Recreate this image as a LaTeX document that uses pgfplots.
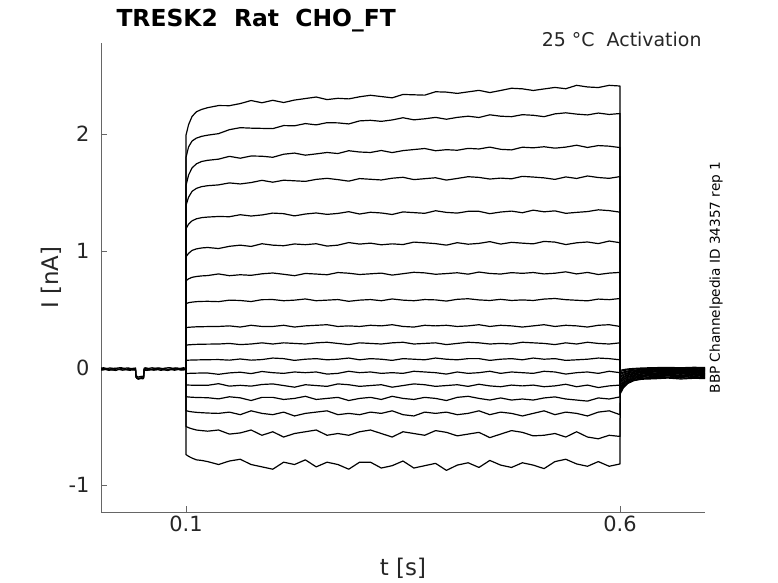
\documentclass[border=0pt]{standalone}
\usepackage{fontspec}
\setmainfont{DejaVu Sans}
\usepackage{pgfplots}
\pgfplotsset{compat=1.18}
\definecolor{axgray}{gray}{0.15}
\definecolor{axline}{gray}{0.4}
\begin{document}
\begin{tikzpicture}
\begin{axis}[
  at={(0,0)}, anchor=south west,
  scale only axis, width=604bp, height=469bp,
  xmin=0.0021, xmax=0.6979, ymin=-1.2308, ymax=2.7778,
  axis x line*=bottom, axis y line*=left,
  axis line style={-, axline, line width=0.8pt},
  xtick={0.1,0.6}, xticklabels={0.1,0.6},
  ytick={-1,0,1,2}, yticklabels={-1,0,1,2},
  tick align=inside, major tick length=6bp,
  tick style={axline, line width=0.8pt},
  ticklabel style={font=\fontsize{21}{25}\selectfont, text=axgray},
  yticklabel style={xshift=-8bp},
  /pgf/number format/assume math mode=true,
  cycle list={{black, solid, mark=none}},
  every axis plot post/.append style={black, solid, mark=none, line width=1.2pt, line join=round},
]
% baseline (holding) segments
\addplot coordinates {(.0021,-.008)(.006,-.004)(.010,-.012)(.014,-.006)(.018,-.002)(.022,-.010)(.026,-.005)(.030,-.013)(.034,-.004)(.038,-.009)(.0419,-.006)(.0424,-.07)(.0432,-.085)(.046,-.088)(.049,-.083)(.051,-.086)(.0512,-.075)(.0518,-.008)(.0555,-.003)(.0595,-.011)(.0635,-.005)(.0675,-.001)(.0715,-.009)(.0755,-.004)(.0795,-.012)(.0835,-.006)(.0875,-.002)(.0915,-.010)(.0955,-.005)(.0999,-.01)};
\addplot coordinates {(.0021,-.012)(.004,-.016)(.008,-.009)(.012,-.014)(.016,-.018)(.020,-.008)(.024,-.013)(.028,-.007)(.032,-.015)(.036,-.010)(.040,-.016)(.0419,-.011)(.0424,-.075)(.044,-.092)(.0475,-.086)(.0505,-.093)(.0512,-.08)(.0518,-.014)(.054,-.009)(.058,-.017)(.062,-.011)(.066,-.015)(.070,-.008)(.074,-.014)(.078,-.018)(.082,-.010)(.086,-.013)(.090,-.007)(.094,-.016)(.098,-.011)(.0999,-.012)};
\addplot coordinates {(.0021,-.001)(.005,.002)(.009,-.004)(.013,.001)(.017,-.006)(.021,0)(.025,.003)(.029,-.003)(.033,.001)(.037,-.005)(.0419,0)(.0424,-.065)(.045,-.078)(.048,-.072)(.0512,-.07)(.0518,-.002)(.053,.002)(.057,-.004)(.061,.002)(.065,-.003)(.069,.001)(.073,-.005)(.077,0)(.081,.003)(.085,-.003)(.089,.001)(.093,-.004)(.097,.002)(.0999,-.003)};
\addplot coordinates {(.0021,-.018)(.007,-.013)(.011,-.020)(.015,-.015)(.019,-.021)(.023,-.012)(.027,-.019)(.031,-.014)(.035,-.020)(.039,-.016)(.0419,-.018)(.0424,-.08)(.045,-.096)(.048,-.09)(.0512,-.088)(.0518,-.017)(.055,-.021)(.059,-.014)(.063,-.019)(.067,-.013)(.071,-.020)(.075,-.015)(.079,-.021)(.083,-.014)(.087,-.019)(.091,-.013)(.095,-.018)(.0999,-.015)};
% c1
\addplot coordinates {(.0999,-.01)(.1,1.99)(.103,2.08)(.107,2.15)(.112,2.19)(.118,2.21)(.125,2.225)(.1375,2.243)(.15,2.242)(.1625,2.26)(.175,2.286)(.1875,2.267)(.2,2.288)(.2125,2.269)(.225,2.29)(.2375,2.303)(.25,2.316)(.2625,2.294)(.275,2.305)(.2875,2.3)(.3,2.318)(.3125,2.331)(.325,2.32)(.3375,2.309)(.35,2.338)(.3625,2.335)(.375,2.332)(.3875,2.361)(.4,2.358)(.4125,2.347)(.425,2.36)(.4375,2.373)(.45,2.354)(.4625,2.372)(.475,2.391)(.4875,2.386)(.5,2.372)(.5125,2.385)(.525,2.398)(.5375,2.387)(.55,2.416)(.5625,2.402)(.575,2.397)(.5875,2.416)(.6,2.41)(.6003,-.22)(.604,-.168)(.609,-.132)(.616,-.108)(.625,-.096)(.64,-.092)(.655,-.086)(.67,-.094)(.685,-.088)(.698,-.09)};
% c2
\addplot coordinates {(.0999,-.01)(.1,1.80)(.103,1.89)(.107,1.94)(.112,1.965)(.118,1.98)(.125,1.99)(.1375,2.003)(.15,2.037)(.1625,2.054)(.175,2.05)(.1875,2.048)(.2,2.046)(.2125,2.072)(.225,2.07)(.2375,2.089)(.25,2.078)(.2625,2.097)(.275,2.095)(.2875,2.086)(.3,2.112)(.3125,2.117)(.325,2.108)(.3375,2.12)(.35,2.139)(.3625,2.121)(.375,2.13)(.3875,2.142)(.4,2.126)(.4125,2.142)(.425,2.152)(.4375,2.141)(.45,2.164)(.4625,2.152)(.475,2.148)(.4875,2.165)(.5,2.16)(.5125,2.148)(.525,2.172)(.5375,2.181)(.55,2.17)(.5625,2.163)(.575,2.179)(.5875,2.167)(.6,2.175)(.6003,-.21)(.604,-.16)(.609,-.127)(.616,-.104)(.625,-.092)(.64,-.086)(.655,-.081)(.67,-.087)(.685,-.082)(.698,-.084)};
% c3
\addplot coordinates {(.0999,-.01)(.1,1.56)(.103,1.65)(.107,1.71)(.112,1.745)(.118,1.765)(.125,1.775)(.1375,1.785)(.15,1.809)(.1625,1.793)(.175,1.812)(.1875,1.81)(.2,1.801)(.2125,1.827)(.225,1.837)(.2375,1.819)(.25,1.83)(.2625,1.842)(.275,1.833)(.2875,1.857)(.3,1.846)(.3125,1.842)(.325,1.859)(.3375,1.841)(.35,1.858)(.3625,1.867)(.375,1.876)(.3875,1.857)(.4,1.866)(.4125,1.861)(.425,1.877)(.4375,1.872)(.45,1.888)(.4625,1.869)(.475,1.864)(.4875,1.887)(.5,1.882)(.5125,1.891)(.525,1.879)(.5375,1.888)(.55,1.904)(.5625,1.885)(.575,1.901)(.5875,1.896)(.6,1.884)(.6003,-.195)(.604,-.15)(.609,-.12)(.616,-.097)(.625,-.086)(.64,-.08)(.655,-.076)(.67,-.08)(.685,-.074)(.698,-.078)};
% c4
\addplot coordinates {(.0999,-.01)(.1,1.39)(.103,1.46)(.107,1.51)(.112,1.535)(.118,1.55)(.125,1.558)(.1375,1.565)(.15,1.582)(.1625,1.573)(.175,1.585)(.1875,1.604)(.2,1.588)(.2125,1.605)(.225,1.60)(.2375,1.595)(.25,1.612)(.2625,1.621)(.275,1.61)(.2875,1.597)(.3,1.619)(.3125,1.613)(.325,1.607)(.3375,1.622)(.35,1.63)(.3625,1.61)(.375,1.618)(.3875,1.626)(.4,1.606)(.4125,1.62)(.425,1.635)(.4375,1.629)(.45,1.615)(.4625,1.623)(.475,1.617)(.4875,1.638)(.5,1.632)(.5125,1.625)(.525,1.612)(.5375,1.633)(.55,1.62)(.5625,1.641)(.575,1.628)(.5875,1.621)(.6,1.636)(.6003,-.18)(.604,-.14)(.609,-.112)(.616,-.09)(.625,-.079)(.64,-.073)(.655,-.069)(.67,-.073)(.685,-.068)(.698,-.071)};
% c5
\addplot coordinates {(.0999,-.01)(.1,1.19)(.103,1.23)(.107,1.258)(.112,1.275)(.118,1.285)(.125,1.29)(.1375,1.295)(.15,1.293)(.1625,1.31)(.175,1.299)(.1875,1.308)(.2,1.324)(.2125,1.319)(.225,1.30)(.2375,1.316)(.25,1.325)(.2625,1.313)(.275,1.321)(.2875,1.336)(.3,1.316)(.3125,1.331)(.325,1.325)(.3375,1.312)(.35,1.334)(.3625,1.328)(.375,1.322)(.3875,1.344)(.4,1.33)(.4125,1.324)(.425,1.339)(.4375,1.339)(.45,1.319)(.4625,1.333)(.475,1.341)(.4875,1.327)(.5,1.349)(.5125,1.335)(.525,1.343)(.5375,1.322)(.55,1.33)(.5625,1.337)(.575,1.352)(.5875,1.345)(.6,1.332)(.6003,-.17)(.604,-.132)(.609,-.105)(.616,-.085)(.625,-.072)(.64,-.066)(.655,-.062)(.67,-.066)(.685,-.061)(.698,-.064)};
% c6
\addplot coordinates {(.0999,-.01)(.1,0.95)(.103,0.98)(.107,1.005)(.112,1.018)(.118,1.026)(.125,1.03)(.1375,1.021)(.15,1.04)(.1625,1.05)(.175,1.039)(.1875,1.062)(.2,1.05)(.2125,1.045)(.225,1.06)(.2375,1.054)(.25,1.062)(.2625,1.042)(.275,1.05)(.2875,1.072)(.3,1.059)(.3125,1.067)(.325,1.053)(.3375,1.061)(.35,1.055)(.3625,1.076)(.375,1.07)(.3875,1.063)(.4,1.05)(.4125,1.071)(.425,1.058)(.4375,1.065)(.45,1.08)(.4625,1.059)(.475,1.074)(.4875,1.067)(.5,1.061)(.5125,1.082)(.525,1.076)(.5375,1.055)(.55,1.07)(.5625,1.077)(.575,1.063)(.5875,1.085)(.6,1.071)(.6003,-.16)(.604,-.124)(.609,-.098)(.616,-.078)(.625,-.066)(.64,-.06)(.655,-.056)(.67,-.06)(.685,-.055)(.698,-.058)};
% c7
\addplot coordinates {(.0999,-.01)(.1,0.745)(.103,0.762)(.107,0.775)(.112,0.782)(.118,0.787)(.125,0.79)(.1375,0.804)(.15,0.789)(.1625,0.797)(.175,0.792)(.1875,0.805)(.2,0.812)(.2125,0.801)(.225,0.789)(.2375,0.808)(.25,0.803)(.2625,0.797)(.275,0.816)(.2875,0.81)(.3,0.799)(.3125,0.805)(.325,0.811)(.3375,0.794)(.35,0.806)(.3625,0.818)(.375,0.813)(.3875,0.801)(.4,0.807)(.4125,0.814)(.425,0.802)(.4375,0.82)(.45,0.808)(.4625,0.803)(.475,0.815)(.4875,0.809)(.5,0.816)(.5125,0.804)(.525,0.81)(.5375,0.822)(.55,0.804)(.5625,0.817)(.575,0.799)(.5875,0.811)(.6,0.817)(.6003,-.145)(.604,-.112)(.609,-.089)(.616,-.071)(.625,-.06)(.64,-.054)(.655,-.05)(.67,-.053)(.685,-.049)(.698,-.052)};
% c8
\addplot coordinates {(.0999,-.01)(.1,0.55)(.103,0.558)(.107,0.563)(.112,0.567)(.118,0.569)(.125,0.57)(.1375,0.567)(.15,0.58)(.1625,0.577)(.175,0.568)(.1875,0.584)(.2,0.585)(.2125,0.575)(.225,0.58)(.2375,0.59)(.25,0.575)(.2625,0.58)(.275,0.585)(.2875,0.57)(.3,0.58)(.3125,0.585)(.325,0.575)(.3375,0.59)(.35,0.58)(.3625,0.575)(.375,0.585)(.3875,0.582)(.4,0.572)(.4125,0.587)(.425,0.592)(.4375,0.582)(.45,0.577)(.4625,0.587)(.475,0.577)(.4875,0.582)(.5,0.577)(.5125,0.589)(.525,0.594)(.5375,0.584)(.55,0.579)(.5625,0.574)(.575,0.589)(.5875,0.584)(.6,0.594)(.6003,-.13)(.604,-.1)(.609,-.08)(.616,-.064)(.625,-.053)(.64,-.047)(.655,-.044)(.67,-.047)(.685,-.043)(.698,-.046)};
% c9
\addplot coordinates {(.0999,-.01)(.1,0.345)(.103,0.348)(.107,0.35)(.112,0.352)(.118,0.353)(.125,0.354)(.1375,0.355)(.15,0.36)(.1625,0.35)(.175,0.365)(.1875,0.355)(.2,0.355)(.2125,0.365)(.225,0.35)(.2375,0.36)(.25,0.365)(.2625,0.37)(.275,0.355)(.2875,0.36)(.3,0.355)(.3125,0.365)(.325,0.36)(.3375,0.37)(.35,0.355)(.3625,0.35)(.375,0.365)(.3875,0.36)(.4,0.365)(.4125,0.355)(.425,0.36)(.4375,0.37)(.45,0.355)(.4625,0.365)(.475,0.36)(.4875,0.35)(.5,0.36)(.5125,0.37)(.525,0.355)(.5375,0.365)(.55,0.36)(.5625,0.35)(.575,0.365)(.5875,0.37)(.6,0.355)(.6003,-.12)(.604,-.093)(.609,-.073)(.616,-.058)(.625,-.048)(.64,-.042)(.655,-.038)(.67,-.041)(.685,-.037)(.698,-.04)};
% c10
\addplot coordinates {(.0999,-.01)(.1,0.195)(.103,0.198)(.107,0.2)(.112,0.202)(.118,0.203)(.125,0.204)(.1375,0.205)(.15,0.21)(.1625,0.20)(.175,0.205)(.1875,0.215)(.2,0.205)(.2125,0.215)(.225,0.21)(.2375,0.205)(.25,0.215)(.2625,0.22)(.275,0.21)(.2875,0.20)(.3,0.215)(.3125,0.21)(.325,0.205)(.3375,0.215)(.35,0.22)(.3625,0.205)(.375,0.21)(.3875,0.215)(.4,0.20)(.4125,0.21)(.425,0.22)(.4375,0.215)(.45,0.205)(.4625,0.21)(.475,0.205)(.4875,0.22)(.5,0.215)(.5125,0.21)(.525,0.20)(.5375,0.215)(.55,0.205)(.5625,0.22)(.575,0.21)(.5875,0.205)(.6,0.215)(.6003,-.105)(.604,-.082)(.609,-.064)(.616,-.05)(.625,-.04)(.64,-.035)(.655,-.032)(.67,-.035)(.685,-.031)(.698,-.033)};
% c11
\addplot coordinates {(.0999,-.01)(.1,0.065)(.103,0.067)(.107,0.068)(.112,0.069)(.118,0.07)(.125,0.071)(.1375,0.072)(.15,0.067)(.1625,0.077)(.175,0.067)(.1875,0.072)(.2,0.085)(.2125,0.08)(.225,0.065)(.2375,0.075)(.25,0.08)(.2625,0.07)(.275,0.075)(.2875,0.085)(.3,0.07)(.3125,0.08)(.325,0.075)(.3375,0.065)(.35,0.08)(.3625,0.075)(.375,0.07)(.3875,0.085)(.4,0.075)(.4125,0.07)(.425,0.08)(.4375,0.08)(.45,0.065)(.4625,0.075)(.475,0.08)(.4875,0.07)(.5,0.085)(.5125,0.075)(.525,0.08)(.5375,0.065)(.55,0.07)(.5625,0.075)(.575,0.085)(.5875,0.08)(.6,0.07)(.6003,-.095)(.604,-.073)(.609,-.057)(.616,-.044)(.625,-.035)(.64,-.03)(.655,-.027)(.67,-.03)(.685,-.026)(.698,-.028)};
% c12
\addplot coordinates {(.0999,-.01)(.1,-0.048)(.103,-0.046)(.107,-0.045)(.112,-0.044)(.118,-0.043)(.125,-0.043)(.1375,-0.054)(.15,-0.042)(.1625,-0.036)(.175,-0.048)(.1875,-0.030)(.2,-0.04)(.2125,-0.046)(.225,-0.034)(.2375,-0.04)(.25,-0.034)(.2625,-0.052)(.275,-0.046)(.2875,-0.028)(.3,-0.04)(.3125,-0.034)(.325,-0.046)(.3375,-0.04)(.35,-0.046)(.3625,-0.028)(.375,-0.034)(.3875,-0.04)(.4,-0.052)(.4125,-0.034)(.425,-0.046)(.4375,-0.04)(.45,-0.028)(.4625,-0.046)(.475,-0.034)(.4875,-0.04)(.5,-0.046)(.5125,-0.028)(.525,-0.034)(.5375,-0.052)(.55,-0.04)(.5625,-0.034)(.575,-0.046)(.5875,-0.028)(.6,-0.04)(.6003,-.08)(.604,-.062)(.609,-.048)(.616,-.037)(.625,-.029)(.64,-.024)(.655,-.021)(.67,-.024)(.685,-.02)(.698,-.022)};
% c13
\addplot coordinates {(.0999,-.01)(.1,-0.145)(.103,-0.146)(.107,-0.147)(.112,-0.147)(.118,-0.148)(.125,-0.148)(.1375,-0.134)(.15,-0.155)(.1625,-0.148)(.175,-0.155)(.1875,-0.141)(.2,-0.136)(.2125,-0.15)(.225,-0.164)(.2375,-0.143)(.25,-0.15)(.2625,-0.157)(.275,-0.136)(.2875,-0.143)(.3,-0.157)(.3125,-0.15)(.325,-0.143)(.3375,-0.164)(.35,-0.15)(.3625,-0.136)(.375,-0.143)(.3875,-0.157)(.4,-0.15)(.4125,-0.143)(.425,-0.157)(.4375,-0.139)(.45,-0.153)(.4625,-0.16)(.475,-0.146)(.4875,-0.153)(.5,-0.146)(.5125,-0.16)(.525,-0.153)(.5375,-0.139)(.55,-0.16)(.5625,-0.146)(.575,-0.167)(.5875,-0.153)(.6,-0.146)(.6003,-.07)(.604,-.053)(.609,-.041)(.616,-.031)(.625,-.023)(.64,-.018)(.655,-.016)(.67,-.019)(.685,-.015)(.698,-.017)};
% c14
\addplot coordinates {(.0999,-.01)(.1,-0.245)(.103,-0.248)(.107,-0.25)(.112,-0.252)(.118,-0.253)(.125,-0.254)(.1375,-0.264)(.15,-0.246)(.1625,-0.255)(.175,-0.278)(.1875,-0.251)(.2,-0.251)(.2125,-0.269)(.225,-0.26)(.2375,-0.242)(.25,-0.269)(.2625,-0.26)(.275,-0.251)(.2875,-0.278)(.3,-0.26)(.3125,-0.251)(.325,-0.269)(.3375,-0.242)(.35,-0.26)(.3625,-0.269)(.375,-0.251)(.3875,-0.26)(.4,-0.278)(.4125,-0.251)(.425,-0.242)(.4375,-0.26)(.45,-0.274)(.4625,-0.256)(.475,-0.274)(.4875,-0.265)(.5,-0.274)(.5125,-0.256)(.525,-0.247)(.5375,-0.265)(.55,-0.274)(.5625,-0.283)(.575,-0.256)(.5875,-0.265)(.6,-0.247)(.6003,-.055)(.604,-.042)(.609,-.032)(.616,-.024)(.625,-.017)(.64,-.012)(.655,-.01)(.67,-.013)(.685,-.009)(.698,-.011)};
% c15
\addplot coordinates {(.0999,-.01)(.1,-0.365)(.103,-0.37)(.107,-0.375)(.112,-0.379)(.118,-0.382)(.125,-0.385)(.1375,-0.388)(.15,-0.377)(.1625,-0.399)(.175,-0.366)(.1875,-0.388)(.2,-0.399)(.2125,-0.377)(.225,-0.41)(.2375,-0.388)(.25,-0.377)(.2625,-0.366)(.275,-0.399)(.2875,-0.388)(.3,-0.399)(.3125,-0.377)(.325,-0.388)(.3375,-0.366)(.35,-0.399)(.3625,-0.41)(.375,-0.377)(.3875,-0.388)(.4,-0.377)(.4125,-0.399)(.425,-0.388)(.4375,-0.366)(.45,-0.399)(.4625,-0.377)(.475,-0.388)(.4875,-0.41)(.5,-0.388)(.5125,-0.366)(.525,-0.399)(.5375,-0.377)(.55,-0.388)(.5625,-0.41)(.575,-0.377)(.5875,-0.366)(.6,-0.399)(.6003,-.045)(.604,-.034)(.609,-.025)(.616,-.018)(.625,-.012)(.64,-.008)(.655,-.006)(.67,-.009)(.685,-.005)(.698,-.007)};
% c16
\addplot coordinates {(.0999,-.01)(.1,-0.50)(.103,-0.51)(.107,-0.52)(.112,-0.53)(.118,-0.535)(.125,-0.54)(.1375,-0.53)(.15,-0.565)(.1625,-0.555)(.175,-0.53)(.1875,-0.575)(.2,-0.545)(.2125,-0.59)(.225,-0.56)(.2375,-0.545)(.25,-0.53)(.2625,-0.575)(.275,-0.56)(.2875,-0.575)(.3,-0.545)(.3125,-0.53)(.325,-0.56)(.3375,-0.59)(.35,-0.545)(.3625,-0.56)(.375,-0.575)(.3875,-0.535)(.4,-0.55)(.4125,-0.58)(.425,-0.565)(.4375,-0.55)(.45,-0.595)(.4625,-0.565)(.475,-0.535)(.4875,-0.55)(.5,-0.58)(.5125,-0.575)(.525,-0.56)(.5375,-0.59)(.55,-0.545)(.5625,-0.59)(.575,-0.605)(.5875,-0.575)(.6,-0.585)(.6003,-.03)(.604,-.022)(.609,-.015)(.616,-.01)(.625,-.006)(.64,-.002)(.655,0)(.67,-.003)(.685,.001)(.698,-.001)};
% c17
\addplot coordinates {(.0999,-.01)(.1,-0.74)(.103,-0.755)(.107,-0.77)(.112,-0.785)(.118,-0.79)(.125,-0.80)(.1375,-0.825)(.15,-0.795)(.1625,-0.78)(.175,-0.825)(.1875,-0.845)(.2,-0.865)(.2125,-0.805)(.225,-0.825)(.2375,-0.785)(.25,-0.845)(.2625,-0.805)(.275,-0.825)(.2875,-0.865)(.3,-0.805)(.3125,-0.805)(.325,-0.855)(.3375,-0.835)(.35,-0.795)(.3625,-0.855)(.375,-0.835)(.3875,-0.815)(.4,-0.875)(.4125,-0.83)(.425,-0.81)(.4375,-0.85)(.45,-0.79)(.4625,-0.83)(.475,-0.85)(.4875,-0.81)(.5,-0.83)(.5125,-0.86)(.525,-0.80)(.5375,-0.78)(.55,-0.82)(.5625,-0.84)(.575,-0.80)(.5875,-0.84)(.6,-0.82)(.6003,-.02)(.604,-.014)(.609,-.008)(.616,-.004)(.625,0)(.64,.003)(.655,.005)(.67,.002)(.685,.006)(.698,.004)};
\end{axis}
\path[use as bounding box] (-101bp,-71bp) rectangle (677bp,512bp);
\node[anchor=base west, font=\bfseries\fontsize{23.5}{28}\selectfont] at (12bp,485bp) {TRESK2~~Rat~~CHO\_FT};
\node[anchor=base east, font=\fontsize{19}{22}\selectfont, text=axgray] at (604bp,465bp) {25 °C~~Activation};
\node[rotate=90, font=\fontsize{13.7}{16}\selectfont] at (615bp,234.5bp) {BBP Channelpedia ID 34357 rep 1};
\node[rotate=90, font=\fontsize{23}{27}\selectfont, text=axgray] at (-50bp,234.5bp) {I [nA]};
\node[font=\fontsize{23}{27}\selectfont, text=axgray] at (302bp,-56bp) {t [s]};
\end{tikzpicture}
\end{document}
